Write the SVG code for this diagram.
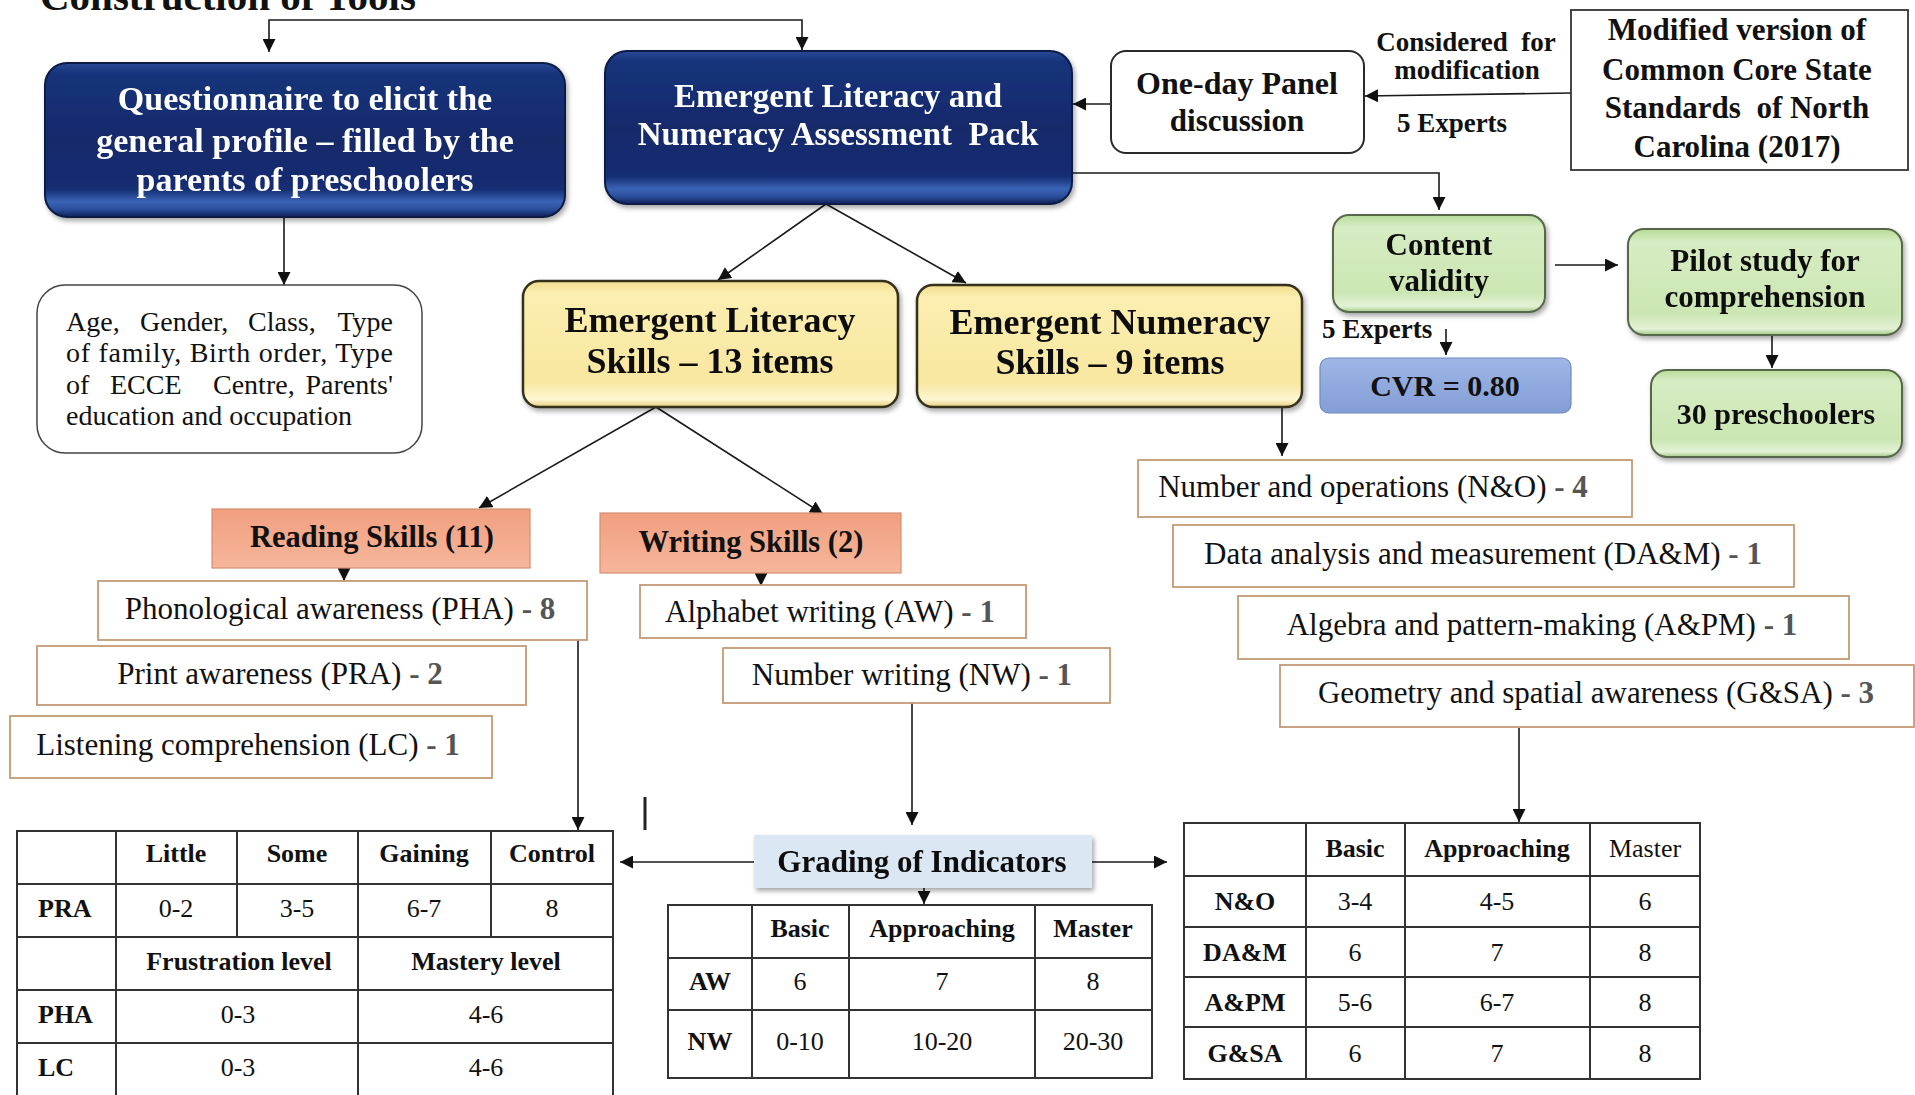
<svg xmlns="http://www.w3.org/2000/svg" width="1915" height="1095" viewBox="0 0 1915 1095">
<defs>
<style>
text{font-family:"Liberation Serif","Times New Roman",serif;fill:#111}
.b{font-weight:bold}
.w{fill:#fff}
.c{text-anchor:middle}
.e{text-anchor:end}
.navy{fill:url(#gNavy);stroke:#0a1a44;stroke-width:2}
.yel{fill:url(#gYel);stroke:#35301f;stroke-width:2.5}
.grn{fill:url(#gGrn);stroke:#56684a;stroke-width:2}
.sal{fill:url(#gSal);stroke:#d4906f;stroke-width:1.2}
.item{fill:#fff;stroke:#c39b76;stroke-width:1.8}
.plain{fill:#fff;stroke:#2a2a2a;stroke-width:2}
.it{font-size:31px}
.num{font-weight:bold;fill:#555}
.conn path{fill:none;stroke:#1a1a1a;stroke-width:1.6;marker-end:url(#ah)}
.tbl line{stroke:#333;stroke-width:2}
.tbl rect{stroke:#333;stroke-width:2;fill:#fff}
.tb{font-size:26px}
</style>
<marker id="ah" viewBox="0 0 10 10" refX="10" refY="5" markerWidth="13" markerHeight="13" markerUnits="userSpaceOnUse" orient="auto">
<path d="M0,0 L10,5 L0,10 z" fill="#111"/>
</marker>
<filter id="sh" x="-5%" y="-5%" width="115%" height="130%">
<feDropShadow dx="2" dy="3" stdDeviation="2.5" flood-color="#000" flood-opacity="0.35"/>
</filter>
<linearGradient id="gNavy" x1="0" y1="0" x2="0" y2="1">
<stop offset="0" stop-color="#2a4896"/>
<stop offset="0.07" stop-color="#16337a"/>
<stop offset="0.5" stop-color="#12296b"/>
<stop offset="0.82" stop-color="#142d72"/>
<stop offset="0.9" stop-color="#3a63b5"/>
<stop offset="0.95" stop-color="#2c4f9c"/>
<stop offset="1" stop-color="#0e2058"/>
</linearGradient>
<linearGradient id="gYel" x1="0" y1="0" x2="0" y2="1">
<stop offset="0" stop-color="#f3dd8c"/>
<stop offset="0.1" stop-color="#fbeeb0"/>
<stop offset="0.8" stop-color="#f8e7a0"/>
<stop offset="0.94" stop-color="#fdf6d2"/>
<stop offset="1" stop-color="#e6cd78"/>
</linearGradient>
<linearGradient id="gGrn" x1="0" y1="0" x2="0" y2="1">
<stop offset="0" stop-color="#b8db98"/>
<stop offset="0.12" stop-color="#d6ecc2"/>
<stop offset="0.8" stop-color="#cce6b3"/>
<stop offset="0.94" stop-color="#e3f2d6"/>
<stop offset="1" stop-color="#a3c985"/>
</linearGradient>
<linearGradient id="gSal" x1="0" y1="0" x2="0" y2="1">
<stop offset="0" stop-color="#f19f80"/>
<stop offset="1" stop-color="#f6b69b"/>
</linearGradient>
<linearGradient id="gCvr" x1="0" y1="0" x2="0" y2="1">
<stop offset="0" stop-color="#9fb6e6"/>
<stop offset="1" stop-color="#839ed6"/>
</linearGradient>
</defs>

<rect width="1915" height="1095" fill="#fff"/>

<!-- heading, mostly above the top edge -->
<text id="title" class="b" x="40" y="10" font-size="41">Construction of Tools</text>

<!-- connectors -->
<g id="connectors" class="conn">
<path d="M536,20 H269 V52"/>
<path d="M536,20 H802 V50"/>
<path d="M284,217 V285"/>
<path d="M1111,104 H1073"/>
<path d="M1571,93 L1365,96"/>
<path d="M1072,173 H1439 V210"/>
<path d="M1555,265 H1618"/>
<path d="M1772,336 V368"/>
<path d="M1446,329 V355"/>
<path d="M826,204 L718,280"/>
<path d="M826,204 L966,283"/>
<path d="M1282,407 V456"/>
<path d="M656,407 L479,508"/>
<path d="M656,407 L823,514"/>
<path d="M344,568 V581"/>
<path d="M761,573 V586"/>
<path d="M578,640 V830"/>
<path d="M912,703 V825"/>
<path d="M754,862 H620"/>
<path d="M1087,862 H1167"/>
<path d="M924,888 V904"/>
<path d="M1519,728 V822"/>
</g>

<!-- short stray stroke -->
<line x1="645" y1="797" x2="645" y2="830" stroke="#222" stroke-width="3"/>

<!-- top row -->
<g id="questionnaire" filter="url(#sh)">
<rect class="navy" x="45" y="63" width="520" height="154" rx="22"/>
<text class="b w c" font-size="34" x="305" y="110">Questionnaire to elicit the</text>
<text class="b w c" font-size="34" x="305" y="152">general profile – filled by the</text>
<text class="b w c" font-size="34" x="305" y="191">parents of preschoolers</text>
</g>

<g id="assessment-pack" filter="url(#sh)">
<rect class="navy" x="605" y="51" width="467" height="153" rx="22"/>
<text class="b w c" font-size="33" x="838" y="107">Emergent Literacy and</text>
<text class="b w c" font-size="33" x="838" y="145" xml:space="preserve">Numeracy Assessment  Pack</text>
</g>

<g id="panel">
<rect class="plain" x="1111" y="51" width="253" height="102" rx="15"/>
<text class="b c" font-size="32" x="1237" y="94">One-day Panel</text>
<text class="b c" font-size="31" x="1237" y="131">discussion</text>
</g>

<g id="panel-labels">
<text class="b c" font-size="27" x="1466" y="51" xml:space="preserve">Considered  for</text>
<text class="b c" font-size="27" x="1467" y="79">modification</text>
<text class="b c" font-size="27" x="1452" y="132">5 Experts</text>
</g>

<g id="ccss">
<rect x="1571" y="10" width="337" height="160" fill="#fff" stroke="#333" stroke-width="1.8"/>
<text class="b c" font-size="31" x="1737" y="40">Modified version of</text>
<text class="b c" font-size="31" x="1737" y="80">Common Core State</text>
<text class="b c" font-size="31" x="1737" y="118" xml:space="preserve">Standards  of North</text>
<text class="b c" font-size="31" x="1737" y="157">Carolina (2017)</text>
</g>

<g id="profile-items">
<rect x="37" y="285" width="385" height="168" rx="28" fill="#fff" stroke="#444" stroke-width="1.5"/>
<g font-size="28">
<text x="66" y="331">Age,</text>
<text x="140" y="331">Gender,</text>
<text x="248" y="331">Class,</text>
<text class="e" x="393" y="331">Type</text>
<text x="66" y="362" textLength="327" lengthAdjust="spacing">of family, Birth order, Type</text>
<text x="66" y="394">of</text>
<text x="110" y="394">ECCE</text>
<text x="213" y="394">Centre,</text>
<text class="e" x="393" y="394">Parents'</text>
<text x="66" y="425">education and occupation</text>
</g>
</g>

<!-- validation -->
<g id="content-validity" filter="url(#sh)">
<rect class="grn" x="1333" y="215" width="212" height="97" rx="16"/>
<text class="b c" font-size="31" x="1439" y="255">Content</text>
<text class="b c" font-size="31" x="1439" y="291">validity</text>
</g>
<text id="cv-experts" class="b" font-size="27" x="1322" y="338">5 Experts</text>

<g id="cvr">
<rect x="1320" y="358" width="251" height="55" rx="9" fill="url(#gCvr)" stroke="#7089c2" stroke-width="1.2"/>
<text class="b c" font-size="30" x="1445" y="396">CVR = 0.80</text>
</g>

<g id="pilot" filter="url(#sh)">
<rect class="grn" x="1628" y="229" width="274" height="106" rx="16"/>
<text class="b c" font-size="31" x="1765" y="271">Pilot study for</text>
<text class="b c" font-size="31" x="1765" y="307">comprehension</text>
</g>

<g id="sample" filter="url(#sh)">
<rect class="grn" x="1651" y="370" width="251" height="87" rx="16"/>
<text class="b c" font-size="30" x="1776" y="424">30 preschoolers</text>
</g>

<!-- skill areas -->
<g id="literacy" filter="url(#sh)">
<rect class="yel" x="523" y="281" width="375" height="126" rx="16"/>
<text class="b c" font-size="36" x="710" y="332">Emergent Literacy</text>
<text class="b c" font-size="36" x="710" y="373">Skills – 13 items</text>
</g>

<g id="numeracy" filter="url(#sh)">
<rect class="yel" x="917" y="285" width="385" height="122" rx="16"/>
<text class="b c" font-size="36" x="1110" y="334">Emergent Numeracy</text>
<text class="b c" font-size="36" x="1110" y="374">Skills – 9 items</text>
</g>

<g id="reading">
<rect class="sal" x="212" y="509" width="318" height="59"/>
<text class="b c" font-size="30.5" x="372" y="547">Reading Skills (11)</text>
</g>

<g id="writing">
<rect class="sal" x="600" y="513" width="301" height="60"/>
<text class="b c" font-size="30.5" x="751" y="552">Writing Skills (2)</text>
</g>

<!-- reading items -->
<g id="pha">
<rect class="item" x="98" y="581" width="489" height="59"/>
<text class="it c" x="340" y="619">Phonological awareness (PHA) <tspan class="num">- 8</tspan></text>
</g>
<g id="pra">
<rect class="item" x="37" y="646" width="489" height="59"/>
<text class="it c" x="280" y="684">Print awareness (PRA) <tspan class="num">- 2</tspan></text>
</g>
<g id="lc">
<rect class="item" x="10" y="716" width="482" height="62"/>
<text class="it c" x="248" y="755">Listening comprehension (LC) <tspan class="num">- 1</tspan></text>
</g>

<!-- writing items -->
<g id="aw">
<rect class="item" x="640" y="585" width="386" height="53"/>
<text class="it c" x="830" y="622">Alphabet writing (AW) <tspan class="num">- 1</tspan></text>
</g>
<g id="nw">
<rect class="item" x="723" y="648" width="387" height="55"/>
<text class="it c" x="912" y="685">Number writing (NW) <tspan class="num">- 1</tspan></text>
</g>

<!-- numeracy items -->
<g id="no">
<rect class="item" x="1138" y="460" width="494" height="57"/>
<text class="it c" x="1373" y="497">Number and operations (N&amp;O) <tspan class="num">- 4</tspan></text>
</g>
<g id="dam">
<rect class="item" x="1173" y="525" width="621" height="62"/>
<text class="it c" x="1483" y="564">Data analysis and measurement (DA&amp;M) <tspan class="num">- 1</tspan></text>
</g>
<g id="apm">
<rect class="item" x="1238" y="596" width="611" height="63"/>
<text class="it c" x="1542" y="635">Algebra and pattern-making (A&amp;PM) <tspan class="num">- 1</tspan></text>
</g>
<g id="gsa">
<rect class="item" x="1280" y="665" width="634" height="62"/>
<text class="it c" x="1596" y="703">Geometry and spatial awareness (G&amp;SA) <tspan class="num">- 3</tspan></text>
</g>

<!-- grading -->
<g id="grading" filter="url(#sh)">
<rect x="754" y="835" width="338" height="53" fill="#dce7f4"/>
<text class="b c" font-size="31" x="922" y="872">Grading of Indicators</text>
</g>

<!-- reading grading table -->
<g id="table-reading" class="tbl">
<rect x="17" y="831" width="596" height="280"/>
<line x1="17" y1="884" x2="613" y2="884"/>
<line x1="17" y1="937" x2="613" y2="937"/>
<line x1="17" y1="990" x2="613" y2="990"/>
<line x1="17" y1="1043" x2="613" y2="1043"/>
<line x1="116" y1="831" x2="116" y2="1100"/>
<line x1="358" y1="831" x2="358" y2="1100"/>
<line x1="237" y1="831" x2="237" y2="937"/>
<line x1="491" y1="831" x2="491" y2="937"/>
<g class="tb">
<text class="b c" x="176" y="862">Little</text>
<text class="b c" x="297" y="862">Some</text>
<text class="b c" x="424" y="862">Gaining</text>
<text class="b c" x="552" y="862">Control</text>
<text class="b" x="38" y="917">PRA</text>
<text class="c" x="176" y="917">0-2</text>
<text class="c" x="297" y="917">3-5</text>
<text class="c" x="424" y="917">6-7</text>
<text class="c" x="552" y="917">8</text>
<text class="b c" x="239" y="970">Frustration level</text>
<text class="b c" x="486" y="970">Mastery level</text>
<text class="b" x="38" y="1023">PHA</text>
<text class="c" x="238" y="1023">0-3</text>
<text class="c" x="486" y="1023">4-6</text>
<text class="b" x="38" y="1076">LC</text>
<text class="c" x="238" y="1076">0-3</text>
<text class="c" x="486" y="1076">4-6</text>
</g>
</g>

<!-- writing grading table -->
<g id="table-writing" class="tbl">
<rect x="668" y="905" width="484" height="173"/>
<line x1="668" y1="958" x2="1152" y2="958"/>
<line x1="668" y1="1010" x2="1152" y2="1010"/>
<line x1="752" y1="905" x2="752" y2="1078"/>
<line x1="849" y1="905" x2="849" y2="1078"/>
<line x1="1035" y1="905" x2="1035" y2="1078"/>
<g class="tb">
<text class="b c" x="800" y="937">Basic</text>
<text class="b c" x="942" y="937">Approaching</text>
<text class="b c" x="1093" y="937">Master</text>
<text class="b c" x="710" y="990">AW</text>
<text class="c" x="800" y="990">6</text>
<text class="c" x="942" y="990">7</text>
<text class="c" x="1093" y="990">8</text>
<text class="b c" x="710" y="1050">NW</text>
<text class="c" x="800" y="1050">0-10</text>
<text class="c" x="942" y="1050">10-20</text>
<text class="c" x="1093" y="1050">20-30</text>
</g>
</g>

<!-- numeracy grading table -->
<g id="table-numeracy" class="tbl">
<rect x="1184" y="823" width="516" height="256"/>
<line x1="1184" y1="876" x2="1700" y2="876"/>
<line x1="1184" y1="927" x2="1700" y2="927"/>
<line x1="1184" y1="977" x2="1700" y2="977"/>
<line x1="1184" y1="1027" x2="1700" y2="1027"/>
<line x1="1306" y1="823" x2="1306" y2="1079"/>
<line x1="1405" y1="823" x2="1405" y2="1079"/>
<line x1="1590" y1="823" x2="1590" y2="1079"/>
<g class="tb">
<text class="b c" x="1355" y="857">Basic</text>
<text class="b c" x="1497" y="857">Approaching</text>
<text class="c" x="1645" y="857">Master</text>
<text class="b c" x="1245" y="910">N&amp;O</text>
<text class="c" x="1355" y="910">3-4</text>
<text class="c" x="1497" y="910">4-5</text>
<text class="c" x="1645" y="910">6</text>
<text class="b c" x="1245" y="961">DA&amp;M</text>
<text class="c" x="1355" y="961">6</text>
<text class="c" x="1497" y="961">7</text>
<text class="c" x="1645" y="961">8</text>
<text class="b c" x="1245" y="1011">A&amp;PM</text>
<text class="c" x="1355" y="1011">5-6</text>
<text class="c" x="1497" y="1011">6-7</text>
<text class="c" x="1645" y="1011">8</text>
<text class="b c" x="1245" y="1062">G&amp;SA</text>
<text class="c" x="1355" y="1062">6</text>
<text class="c" x="1497" y="1062">7</text>
<text class="c" x="1645" y="1062">8</text>
</g>
</g>
</svg>
